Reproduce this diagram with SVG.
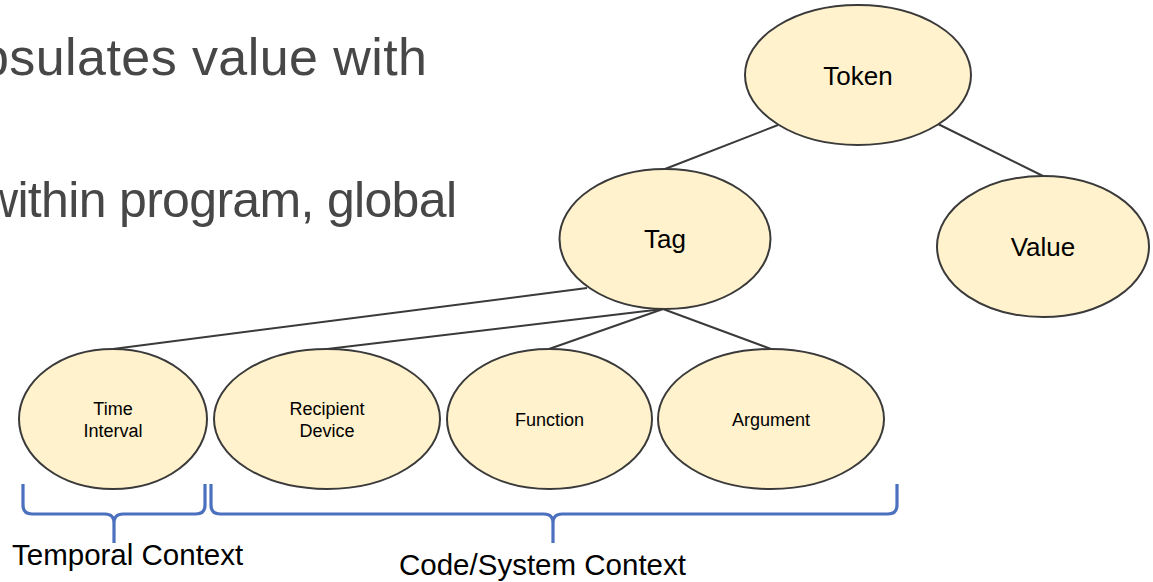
<svg xmlns="http://www.w3.org/2000/svg" width="1153" height="582" viewBox="0 0 1153 582">
  <style>
    .node { fill: #FFF2CC; stroke: #3a3a3a; stroke-width: 2; }
    .lbl { font-family: "Liberation Sans", Arial, sans-serif; fill: #000; text-anchor: middle; }
    .big { font-size: 26px; }
    .small { font-size: 18px; }
    .edge { stroke: #3a3a3a; stroke-width: 2; fill: none; }
    .brace { stroke: #4A70BE; stroke-width: 3.2; fill: none; stroke-linecap: butt; stroke-linejoin: round; }
    .body { font-family: "Liberation Sans", Arial, sans-serif; fill: #474747; }
    .caption { font-family: "Liberation Sans", Arial, sans-serif; fill: #000; font-size: 29.5px; }
  </style>
  <rect width="1153" height="582" fill="#fff"/>

  <!-- slide body text, clipped at the left edge -->
  <text class="body" font-size="52" x="-20" y="75" textLength="447" lengthAdjust="spacing">psulates value with</text>
  <text class="body" font-size="50" x="-18" y="217" textLength="475" lengthAdjust="spacing">within program, global</text>

  <!-- tree edges -->
  <g id="connectors">
    <line class="edge" x1="778" y1="125" x2="665" y2="169"/>
    <line class="edge" x1="938" y1="124" x2="1043" y2="176"/>
    <line class="edge" x1="587" y1="288" x2="113" y2="349"/>
    <line class="edge" x1="663" y1="309" x2="327" y2="349"/>
    <line class="edge" x1="663" y1="309" x2="549" y2="349"/>
    <line class="edge" x1="663" y1="309" x2="771" y2="349"/>
  </g>

  <g id="token">
    <ellipse class="node" cx="858" cy="75" rx="113" ry="70"/>
    <text class="lbl big" x="858" y="85">Token</text>
  </g>
  <g id="tag">
    <ellipse class="node" cx="665" cy="239" rx="105.5" ry="70"/>
    <text class="lbl big" x="665" y="248">Tag</text>
  </g>
  <g id="value">
    <ellipse class="node" cx="1043" cy="246.5" rx="106" ry="70.5"/>
    <text class="lbl big" x="1043" y="256">Value</text>
  </g>
  <g id="time-interval">
    <ellipse class="node" cx="113" cy="419" rx="94" ry="70"/>
    <text class="lbl small" x="113" y="415">Time</text>
    <text class="lbl small" x="113" y="437">Interval</text>
  </g>
  <g id="recipient-device">
    <ellipse class="node" cx="327" cy="419" rx="113" ry="70"/>
    <text class="lbl small" x="327" y="415">Recipient</text>
    <text class="lbl small" x="327" y="437">Device</text>
  </g>
  <g id="function">
    <ellipse class="node" cx="549.5" cy="419" rx="102.5" ry="70"/>
    <text class="lbl small" x="549.5" y="426">Function</text>
  </g>
  <g id="argument">
    <ellipse class="node" cx="771" cy="419" rx="113" ry="70"/>
    <text class="lbl small" x="771" y="426">Argument</text>
  </g>

  <!-- grouping braces -->
  <g id="temporal-context">
    <path class="brace" d="M23,484 V505 Q23,514 32,514 H105 Q114,514 114,523 V543 M114,523 Q114,514 123,514 H196 Q205,514 205,505 V484"/>
    <text class="caption" x="12" y="565">Temporal Context</text>
  </g>
  <g id="code-system-context">
    <path class="brace" d="M211,484 V505 Q211,514 220,514 H544 Q553,514 553,523 V543 M553,523 Q553,514 562,514 H888 Q897,514 897,505 V484"/>
    <text class="caption" x="399" y="575">Code/System Context</text>
  </g>
</svg>
